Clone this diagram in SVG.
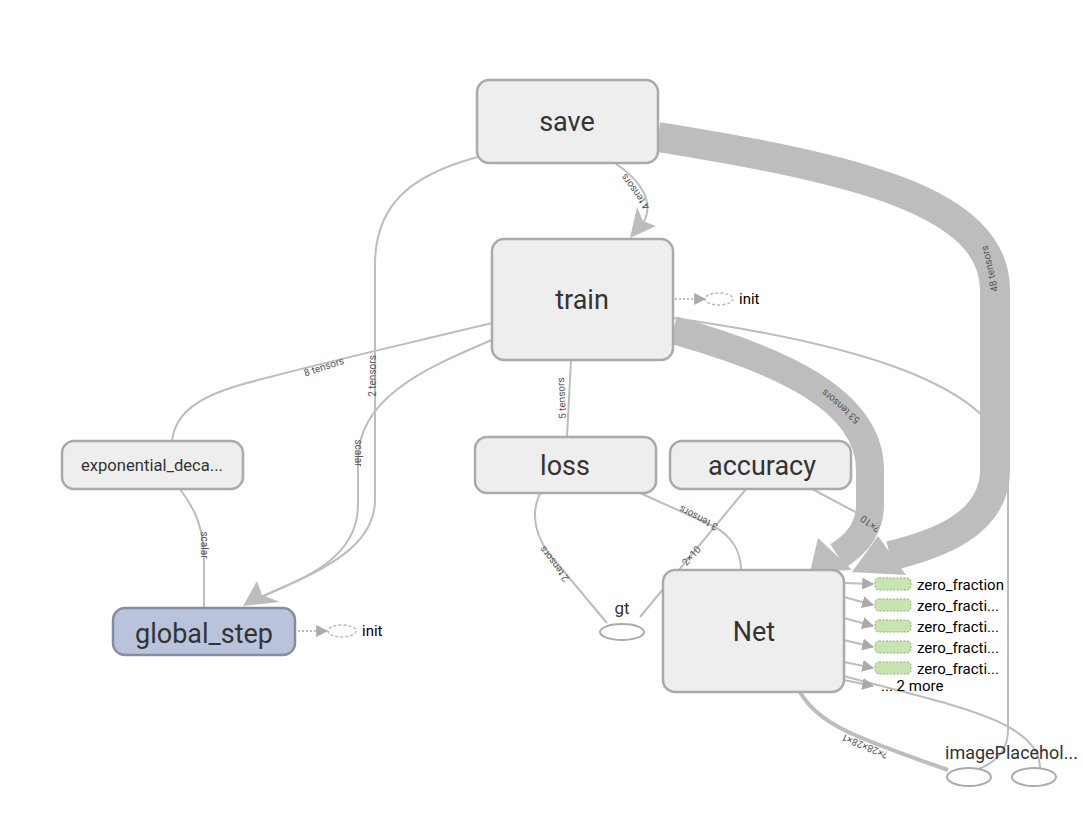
<svg xmlns="http://www.w3.org/2000/svg" width="1083" height="834" viewBox="0 0 1083 834">
<style>
.node rect.box{fill:#eeeeee;stroke:#aaaaaa;stroke-width:2.5}
.lbl{font-family:Roboto,"Liberation Sans",sans-serif;fill:#333;text-anchor:middle}
.e{fill:none;stroke:#bdbdbd;stroke-width:2}
.band{fill:none;stroke:#bdbdbd;stroke-width:30}
.ah{fill:#bdbdbd}
.el{font-family:Roboto,"Liberation Sans",sans-serif;font-size:10px;fill:#555;text-anchor:middle}
.dot{fill:none;stroke:#aaaaaa;stroke-width:1.5;stroke-dasharray:2,2}
.ell{fill:#fff;stroke:#aaaaaa;stroke-width:2}
.sm{font-family:Roboto,"Liberation Sans",sans-serif;font-size:15px;fill:#000}
.zf{fill:#c7e4b1;stroke:#8fae78;stroke-width:1;stroke-dasharray:2,1.5}
</style>
<defs>
<marker id="a" viewBox="0 0 10 10" refX="9" refY="5" markerWidth="12" markerHeight="12" markerUnits="userSpaceOnUse" orient="auto"><path d="M0,0 L10,5 L0,10 Z" fill="#aaaaaa"/></marker>
</defs>
<rect width="1083" height="834" fill="#fff"/>
<g id="connectors">
<path class="band" d="M658,137 C850,168 995,200 995,290 L995,470 C995,525 935,545 890,556"/>
<polygon class="ah" points="852,572 878,536 906,575"/>
<path class="band" style="stroke-width:28" d="M673,330 C780,360 870,400 870,470 L870,505 C870,530 855,545 838,556"/>
<polygon class="ah" points="810,572 818,538 852,570"/>
<path class="e" d="M615,163 C640,180 660,205 638,230"/>
<polygon class="ah" points="630,238 637,207 643,221 656,226"/>
<path class="e" d="M478,157 C410,175 375,205 375,265 L375,500 C375,555 300,578 262,597"/>
<path class="e" d="M492,340 C420,370 358,400 358,460 L358,505 C358,560 300,580 258,598"/>
<polygon class="ah" points="243,606 257,581 262,595 280,602"/>
<path class="e" d="M492,323 C380,350 300,368 240,385 C195,398 175,415 172,441"/>
<path class="e" d="M180,489 C196,510 204,530 204,560 L204,608"/>
<path class="e" d="M571,360 L567,437"/>
<path class="e" d="M540,493 C530,515 535,535 550,555 L607,623"/>
<path class="e" d="M640,493 L713,526 C730,535 741,550 741,570"/>
<path class="e" d="M746,489 L640,617"/>
<path class="e" d="M812,489 L880,525"/>
<path class="e" d="M673,318 C830,340 1008,380 1008,470 L1008,730 C1008,755 990,765 976,770"/>
<path class="e" d="M844,676 C950,705 1040,720 1040,768"/>
<path class="e" style="stroke-width:4" d="M800,692 C820,728 870,742 948,770"/>
<path class="e" d="M844,583 L873,584" marker-end="url(#a)"/>
<path class="e" d="M844,597 L873,605" marker-end="url(#a)"/>
<path class="e" d="M844,618 L873,626" marker-end="url(#a)"/>
<path class="e" d="M844,640 L873,647" marker-end="url(#a)"/>
<path class="e" d="M844,662 L873,668" marker-end="url(#a)"/>
<path class="e" d="M844,680 L873,686" marker-end="url(#a)"/>
<path class="dot" d="M675,299 L705,299" marker-end="url(#a)"/>
<path class="dot" d="M298,631 L327,631" marker-end="url(#a)"/>
<text class="el" transform="translate(638,190) rotate(-126)">4 tensors</text>
<text class="el" transform="translate(993,268) rotate(-103)">48 tensors</text>
<text class="el" transform="translate(843,404) rotate(-139)">53 tensors</text>
<text class="el" transform="translate(325,370) rotate(-18)">8 tensors</text>
<text class="el" transform="translate(376,376) rotate(-90)">2 tensors</text>
<text class="el" transform="translate(355,453) rotate(90)">scalar</text>
<text class="el" transform="translate(201,545) rotate(90)">scalar</text>
<text class="el" transform="translate(565,398) rotate(-93)">5 tensors</text>
<text class="el" transform="translate(557,562) rotate(-127)">2 tensors</text>
<text class="el" transform="translate(700,515) rotate(-152)">3 tensors</text>
<text class="el" transform="translate(694,558) rotate(-48)">2×10</text>
<text class="el" transform="translate(872,521) rotate(-145)">?×10</text>
<text class="el" transform="translate(866,743) rotate(-157)">?×28×28×1</text>
</g>
<g id="save" class="node"><rect class="box" x="477" y="80" width="181" height="83" rx="12"/><text class="lbl" x="567" y="131" font-size="27">save</text></g>
<g id="train" class="node"><rect class="box" x="492" y="239" width="181" height="121" rx="12"/><text class="lbl" x="582" y="309" font-size="27">train</text></g>
<g id="init_train"><ellipse cx="719" cy="299" rx="14" ry="6" fill="#fff" stroke="#bbbbbb" stroke-width="1.5" stroke-dasharray="3,2"/><text class="sm" x="739" y="304">init</text></g>
<g id="exponential_decay" class="node"><rect class="box" x="62" y="441" width="181" height="48" rx="12"/><text class="lbl" x="152" y="471" font-size="16.6">exponential_deca...</text></g>
<g id="loss" class="node"><rect class="box" x="475" y="437" width="181" height="56" rx="12"/><text class="lbl" x="565" y="475" font-size="27">loss</text></g>
<g id="accuracy" class="node"><rect class="box" x="670" y="441" width="181" height="48" rx="12"/><text class="lbl" x="762" y="475" font-size="27">accuracy</text></g>
<g id="global_step" class="node"><rect x="113" y="608" width="182" height="47" rx="12" fill="#b9c3dc" stroke="#878d9e" stroke-width="2.5"/><text class="lbl" x="204" y="643" font-size="27">global_step</text></g>
<g id="init_gs"><ellipse cx="342" cy="631" rx="14" ry="6" fill="#fff" stroke="#bbbbbb" stroke-width="1.5" stroke-dasharray="3,2"/><text class="sm" x="362" y="636">init</text></g>
<g id="gt"><ellipse class="ell" cx="622" cy="632" rx="22" ry="8"/><text class="lbl" x="622" y="614" font-size="17">gt</text></g>
<g id="Net" class="node"><rect class="box" x="663" y="570" width="181" height="122" rx="12"/><text class="lbl" x="754" y="641" font-size="27">Net</text></g>
<g id="zero_fractions">
<rect class="zf" x="875" y="578" width="36" height="12" rx="4"/><text class="sm" x="917" y="590">zero_fraction</text>
<rect class="zf" x="875" y="599" width="36" height="12" rx="4"/><text class="sm" x="917" y="611">zero_fracti...</text>
<rect class="zf" x="875" y="620" width="36" height="12" rx="4"/><text class="sm" x="917" y="632">zero_fracti...</text>
<rect class="zf" x="875" y="641" width="36" height="12" rx="4"/><text class="sm" x="917" y="653">zero_fracti...</text>
<rect class="zf" x="875" y="662" width="36" height="12" rx="4"/><text class="sm" x="917" y="674">zero_fracti...</text>
<text class="sm" x="881" y="691">... 2 more</text>
</g>
<g id="imagePlaceholder"><ellipse class="ell" cx="969" cy="777" rx="22" ry="9"/><ellipse class="ell" cx="1034" cy="777" rx="22" ry="9"/><text x="945" y="759" font-family="Roboto,'Liberation Sans',sans-serif" font-size="18" fill="#333">imagePlacehol...</text></g>
</svg>
